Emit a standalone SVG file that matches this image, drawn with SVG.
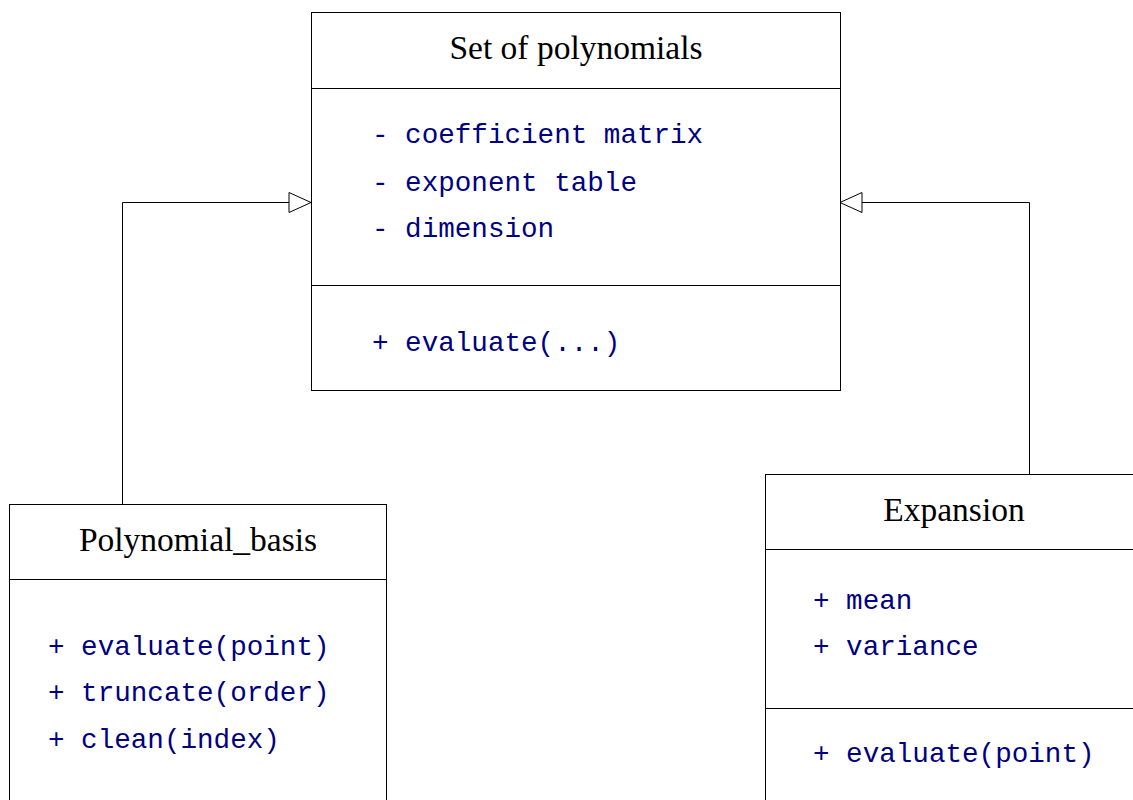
<svg xmlns="http://www.w3.org/2000/svg" width="1133" height="800" viewBox="0 0 1133 800">
  <style>
    .box { fill: #ffffff; stroke: #000000; stroke-width: 1; }
    .rule { stroke: #000000; stroke-width: 1; fill: none; }
    .title { font-family: "Liberation Serif", "Times New Roman", serif; font-size: 33.5px; fill: #000000; text-anchor: middle; }
    .member { font-family: "Liberation Mono", "Courier New", monospace; font-size: 27.6px; fill: #000080; }
    .edge { stroke: #000000; stroke-width: 1; fill: none; }
  </style>
  <defs>
    <!-- hollow triangle for generalization -->
    <marker id="inherit" markerWidth="24" markerHeight="22" refX="23" refY="11" orient="auto" markerUnits="userSpaceOnUse">
      <path d="M1,1 L23,11 L1,21 Z" fill="#ffffff" stroke="#000000" stroke-width="1"/>
    </marker>
  </defs>

  <g id="connectors">
    <path class="edge" d="M122.5,504 V202.5 H311" marker-end="url(#inherit)"/>
    <path class="edge" d="M1029.5,474 V202.5 H840" marker-end="url(#inherit)"/>
  </g>

  <g id="set-of-polynomials">
    <rect class="box" x="311.5" y="12.5" width="529" height="378"/>
    <line class="rule" x1="311.5" y1="88.5" x2="840.5" y2="88.5"/>
    <line class="rule" x1="311.5" y1="285.5" x2="840.5" y2="285.5"/>
    <text class="title" x="576" y="59">Set of polynomials</text>
    <text class="member" x="372" y="143">- coefficient matrix</text>
    <text class="member" x="372" y="191">- exponent table</text>
    <text class="member" x="372" y="237">- dimension</text>
    <text class="member" x="372" y="351">+ evaluate(...)</text>
  </g>

  <g id="polynomial-basis">
    <rect class="box" x="9.5" y="504.5" width="377" height="310"/>
    <line class="rule" x1="9.5" y1="579.5" x2="386.5" y2="579.5"/>
    <text class="title" x="198" y="551">Polynomial_basis</text>
    <text class="member" x="48" y="655">+ evaluate(point)</text>
    <text class="member" x="48" y="701">+ truncate(order)</text>
    <text class="member" x="48" y="748">+ clean(index)</text>
  </g>

  <g id="expansion">
    <rect class="box" x="765.5" y="474.5" width="380" height="340"/>
    <line class="rule" x1="765.5" y1="549.5" x2="1145" y2="549.5"/>
    <line class="rule" x1="765.5" y1="708.5" x2="1145" y2="708.5"/>
    <text class="title" x="954" y="521">Expansion</text>
    <text class="member" x="813" y="609">+ mean</text>
    <text class="member" x="813" y="655">+ variance</text>
    <text class="member" x="813" y="762">+ evaluate(point)</text>
  </g>
</svg>
